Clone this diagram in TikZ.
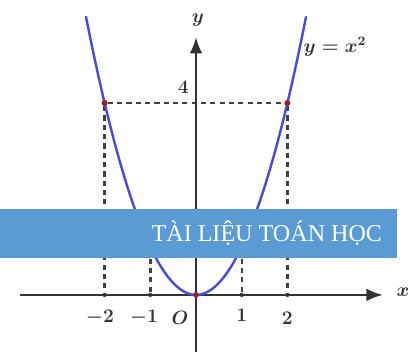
\documentclass[tikz,border=0pt]{standalone}
\usepackage{fontspec}
\newfontfamily\bannerfont{Liberation Serif}
\usepackage{tikz}
\usetikzlibrary{arrows.meta, positioning}

\definecolor{curveblue}{RGB}{72,72,228}
\definecolor{bannerblue}{RGB}{91,155,213}
\definecolor{dotred}{RGB}{150,30,30}

\begin{document}
\begin{tikzpicture}[
    x=1cm, y=1.05cm,
    axis/.style={line width=1.5pt, draw=black!80, -{Latex[length=3.6mm, width=2.8mm]}},
    guide/.style={line width=1.5pt, draw=black!75, dash pattern=on 3.2pt off 2.6pt},
    graph/.style={line width=1.5pt, draw=curveblue},
    pt/.style={circle, fill=dotred, inner sep=0pt, minimum size=3.6pt},
    tick/.style={circle, fill=black!80, inner sep=0pt, minimum size=2.6pt},
    lab/.style={font=\large\bfseries\boldmath, text=black!80, inner sep=1pt},
    banner/.style={fill=bannerblue, draw=none}
]
\useasboundingbox (-4.289,-1.1875) rectangle (4.792,6.146);

% points of the graph
\node[pt] (P) at (-2,4) {};
\node[pt] (Q) at (2,4) {};
\node[tick] (M) at (-1,1) {};
\node[tick] (N) at (1,1) {};

% feet on the x axis
\node[tick] (A) at (-2,0) {};
\node[tick] (B) at (-1,0) {};
\node[tick] (C) at (1,0) {};
\node[tick] (D) at (2,0) {};

% axes
\coordinate (xl) at (-3.85,0);
\coordinate (xr) at (4.09,0);
\coordinate (yb) at (0,-1.1875);
\coordinate (yt) at (0,5.375);

\draw[guide] (P) -- (Q);
\draw[guide] (P) -- (A);
\draw[guide] (Q) -- (D);
\draw[guide] (M) -- (B);
\draw[guide] (N) -- (C);

\draw[axis] (xl) -- (xr);
\draw[axis] (yb) -- (yt);

% parabola
\draw[graph] plot[domain=-2.41:2.41, samples=80, smooth] (\x, {\x*\x});

\node[pt] (P) at (-2,4) {};
\node[pt] (Q) at (2,4) {};
\node[pt] (O) at (0,0) {};

% labels
\node[lab] (xlab) at (4.53,0.06) {$x$};
\node[lab] (ylab) at (0.04,5.73) {$y$};
\node[lab] (four) at (-0.28,4.33) {$4$};
\node[lab] (eq) at (3.04,5.17) {$y=x^2$};
\node[lab] (lm2) at (-2.1,-0.48) {$-2$};
\node[lab] (lm1) at (-1.14,-0.48) {$-1$};
\node[lab] (lO) at (-0.35,-0.48) {$O$};
\node[lab] (l1) at (1.0,-0.42) {$1$};
\node[lab] (l2) at (2.0,-0.48) {$2$};

% watermark banner
\fill[banner] (-4.289,0.77) rectangle (4.40,1.79);
\node[text=white, font=\bannerfont\fontsize{15}{18}\selectfont] (wm) at (1.55,1.29) {TÀI LIỆU TOÁN HỌC};

\end{tikzpicture}
\end{document}
